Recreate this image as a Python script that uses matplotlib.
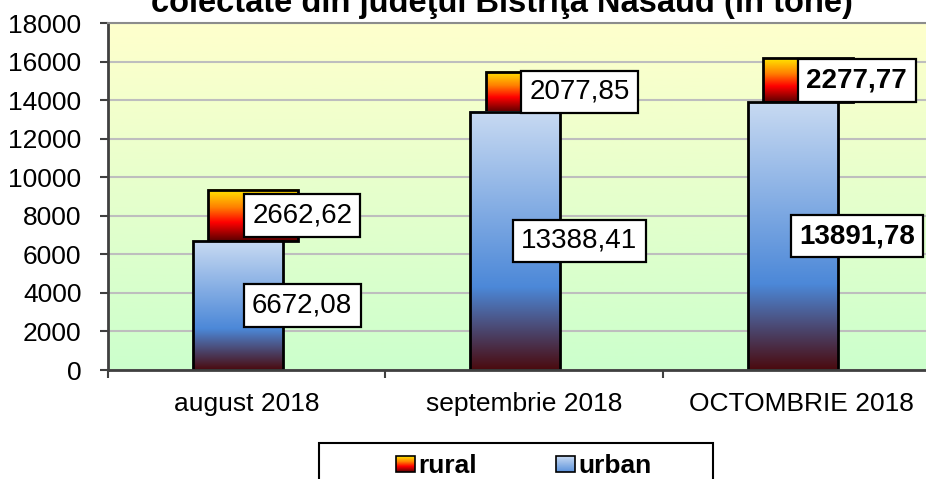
import numpy as np
import matplotlib
matplotlib.use('Agg')
import matplotlib.pyplot as plt
from matplotlib.colors import LinearSegmentedColormap
from matplotlib.patches import Rectangle, Patch
from matplotlib.legend_handler import HandlerBase

plt.rcParams['font.family'] = ['Liberation Sans', 'DejaVu Sans']

# Data (tone)
months = ['august 2018', 'septembrie 2018', 'OCTOMBRIE 2018']
urban = [6672.08, 13388.41, 13891.78]
rural = [2662.62, 2077.85, 2277.77]
bold_labels = [False, False, True]
y_ticks = list(range(0, 18001, 2000))
title = 'colectate din judeţul Bistriţa Năsăud (în tone)'

urban_cmap = LinearSegmentedColormap.from_list(
    'urban', [(0.0, '#4A0A0E'), (0.32, '#4C88D8'), (1.0, '#C8DAF2')])
rural_cmap = LinearSegmentedColormap.from_list(
    'rural', [(0.0, '#5A0000'), (0.36, '#FF0000'), (0.65, '#FF8000'), (1.0, '#FFE800')])
bg_cmap = LinearSegmentedColormap.from_list('bg', ['#CCFFCC', '#FFFFCC'])


class GradientHandler(HandlerBase):
    """Legend square filled with a vertical gradient."""

    def __init__(self, cmap, lo=0.0, hi=1.0):
        super().__init__()
        self.cmap = cmap
        self.lo = lo
        self.hi = hi

    def create_artists(self, legend, orig_handle, xdescent, ydescent,
                       width, height, fontsize, trans):
        n = 16
        artists = []
        for i in range(n):
            val = self.lo + (self.hi - self.lo) * (i + 0.5) / n
            artists.append(Rectangle((-xdescent, -ydescent + i * height / n),
                                     width, height / n, facecolor=self.cmap(val),
                                     edgecolor='none', transform=trans))
        artists.append(Rectangle((-xdescent, -ydescent), width, height, fill=False,
                                 edgecolor='black', lw=1.2, transform=trans))
        return artists


def fmt(v):
    return f'{v:.2f}'.replace('.', ',')


def gradient_bar(ax, bar, cmap, z):
    """Fill a bar patch with a vertical gradient."""
    x, y = bar.get_xy()
    grad = np.linspace(0, 1, 256).reshape(-1, 1)
    ax.imshow(grad, cmap=cmap, origin='lower', aspect='auto', interpolation='bilinear',
              extent=(x, x + bar.get_width(), y, y + bar.get_height()), zorder=z)


def plot_chart():
    fig = plt.figure(figsize=(9.26, 4.79), dpi=100)
    fig.patch.set_facecolor('white')
    ax = fig.add_axes([108 / 926, 109 / 479, 832 / 926, 347 / 479])

    # plot area background gradient
    ax.imshow(np.linspace(0, 1, 256).reshape(-1, 1), cmap=bg_cmap, origin='lower',
              aspect='auto', extent=(0, 1, 0, 1), transform=ax.transAxes, zorder=0)

    x = np.arange(len(months))
    width = 0.325
    rural_bars = ax.bar(x + 0.024, rural, width, bottom=urban, facecolor='none',
                        edgecolor='black', lw=2, zorder=2.1)
    urban_bars = ax.bar(x - 0.031, urban, width, facecolor='none',
                        edgecolor='black', lw=2, zorder=2.3)
    for b in rural_bars:
        gradient_bar(ax, b, rural_cmap, 2.0)
    for b in urban_bars:
        gradient_bar(ax, b, urban_cmap, 2.2)

    box = dict(boxstyle='square,pad=0.3', facecolor='white', edgecolor='black', lw=1.6)
    for i in range(len(months)):
        weight = 'bold' if bold_labels[i] else 'normal'
        ax.text(x[i] + 0.2, urban[i] + rural[i] / 2, fmt(rural[i]), ha='center',
                va='center', fontsize=20, fontweight=weight, bbox=box, zorder=5)
        ax.text(x[i] + 0.2, urban[i] / 2, fmt(urban[i]), ha='center',
                va='center', fontsize=20, fontweight=weight, bbox=box, zorder=5)

    ax.set_xlim(-0.5, len(months) - 0.5)
    ax.set_ylim(0, 18000)
    ax.set_yticks(y_ticks)
    ax.set_xticks(x, months)
    ax.set_xticks(np.arange(len(months) + 1) - 0.5, minor=True)
    ax.tick_params(axis='x', which='major', length=0, pad=16, labelsize=19)
    ax.tick_params(axis='x', which='minor', length=6, width=1.5, color='#404040')
    ax.tick_params(axis='y', length=6, width=1.5, color='#404040', pad=13, labelsize=19)

    ax.set_axisbelow(True)
    ax.grid(axis='y', color='#BEBEBE', lw=1.5, zorder=1)
    for side in ['left', 'bottom']:
        ax.spines[side].set_color('#404040')
        ax.spines[side].set_linewidth(2)
    ax.spines['top'].set_color('#8C8C8C')
    ax.spines['top'].set_linewidth(1.5)
    ax.spines['right'].set_visible(False)

    fig.text(502 / 926, 1 - 12 / 479, title, ha='center', va='baseline',
             fontsize=23.5, fontweight='bold')

    # legend
    h_rural = Patch(label='rural')
    h_urban = Patch(label='urban')
    fig.legend(handles=[h_rural, h_urban], loc='center',
               bbox_to_anchor=(524 / 926, 1 - 466 / 479), ncol=2, frameon=False,
               prop={'weight': 'bold', 'size': 19}, handlelength=0.7,
               handleheight=0.55, handletextpad=0.15, columnspacing=3.0,
               handler_map={h_rural: GradientHandler(rural_cmap),
                            h_urban: GradientHandler(urban_cmap, 0.4, 1.0)})
    fig.add_artist(Rectangle((319 / 926, -0.05), 394 / 926, 36 / 479 + 0.05,
                             transform=fig.transFigure, fill=False,
                             edgecolor='black', lw=1.5))

    fig.savefig('out.png', dpi=100)
    plt.close(fig)


def main():
    plot_chart()


if __name__ == '__main__':
    main()
